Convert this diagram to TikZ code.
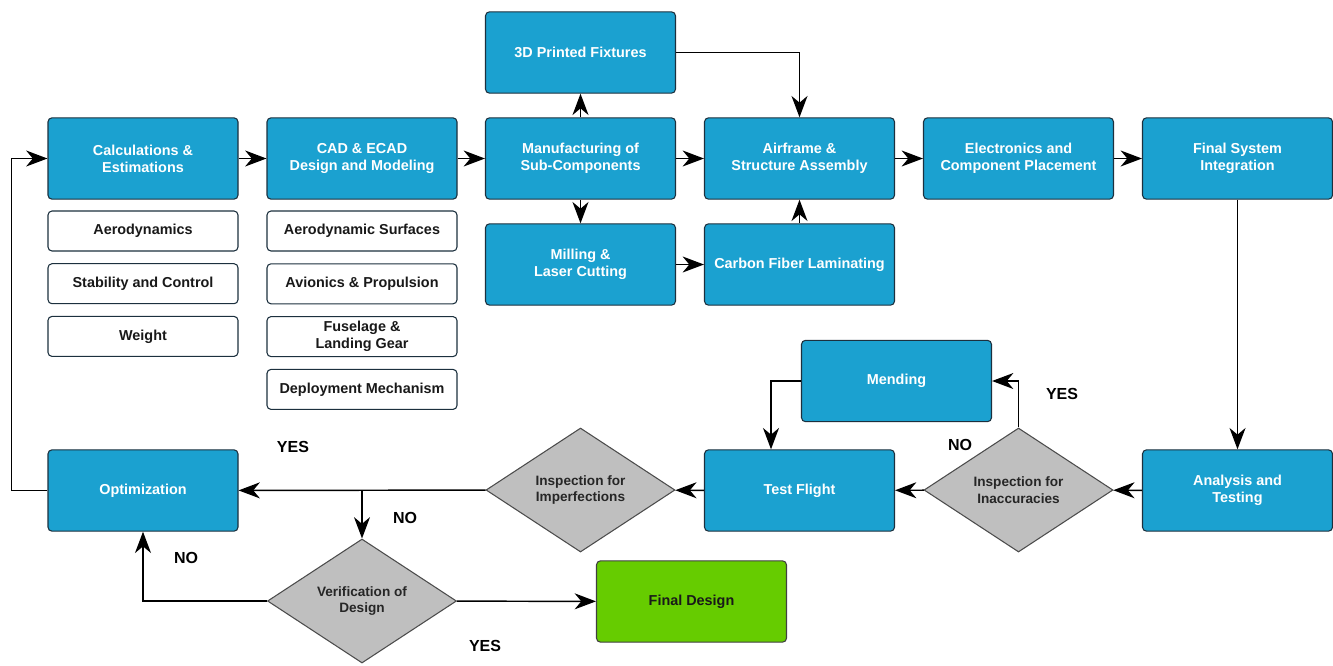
\documentclass[tikz,border=0pt]{standalone}
\usepackage{fontspec}
\setmainfont{Liberation Sans}
\usetikzlibrary{%
  arrows.meta,%
  shapes.geometric,% wg. diamond
  calc%
}
\definecolor{boxblue}{RGB}{27,161,208}
\definecolor{boxline}{RGB}{28,48,62}
\definecolor{decgray}{RGB}{191,191,191}
\definecolor{finalgreen}{RGB}{102,204,0}

\begin{document}
\begin{tikzpicture}[
  x=0.75pt, y=-0.75pt,
  font=\bfseries\fontsize{10.8}{12.8}\selectfont,
  line width=1.1pt,
  arr/.style={-{Stealth[length=16pt,width=12pt,inset=5pt]}},
  blk/.style={draw=boxline, line width=0.8pt, fill=boxblue, rounded corners=3pt,
    text=white, align=center, minimum width=142.5pt, minimum height=61pt, inner sep=0pt},
  sub/.style={draw=boxline, line width=0.8pt, fill=white, rounded corners=3pt,
    text=black!90, align=center, minimum width=142.5pt, minimum height=30pt, inner sep=0pt},
  dec/.style={diamond, draw=black!70, line width=0.8pt, fill=decgray, align=center,
    minimum width=141.75pt, minimum height=93pt, inner sep=0pt, text=black!85,
    font=\bfseries\fontsize{10.2}{12.4}\selectfont},
  lbl/.style={font=\bfseries\fontsize{12}{14}\selectfont},
]
\useasboundingbox (0,0) rectangle (1333,665);

% top row
\node[blk] (calc) at (143,158.5) {Calculations \&\\ Estimations};
\node[blk] (cad) at (362,158.5) {CAD \& ECAD\\ Design and Modeling};
\node[blk] (manu) at (580.5,158.5) {Manufacturing of\\ Sub-Components};
\node[blk] (air) at (799.5,158.5) {Airframe \&\\ Structure Assembly};
\node[blk] (elec) at (1018.5,158.5) {Electronics and\\ Component Placement};
\node[blk] (fsi) at (1237.5,158.5) {Final System\\ Integration};
\node[blk] (print) at (580.5,52.5) {3D Printed Fixtures};
\node[blk] (mill) at (580.5,264.5) {Milling \&\\ Laser Cutting};
\node[blk] (carbon) at (799.5,264.5) {Carbon Fiber Laminating};

\foreach \t [count=\i] in {Aerodynamics, Stability and Control, Weight} {
  \node[sub] (calcsub\i) at (143,231+52.7*\i-52.7) {\t};
}
\foreach \t [count=\i] in {Aerodynamic Surfaces, Avionics \& Propulsion,
    {Fuselage \&\\ Landing Gear}, Deployment Mechanism} {
  \node[sub] (cadsub\i) at (362,231+52.8*\i-52.8) {\t};
}

% bottom loop
\node[blk] (mend) at (896.5,381) {Mending};
\node[blk] (test) at (799.5,490.5) {Test Flight};
\node[blk] (ana) at (1237.5,490.5) {Analysis and\\ Testing};
\node[blk] (opt) at (143,490.5) {Optimization};
\node[dec] (insacc) at (1018.5,490) {Inspection for\\ Inaccuracies};
\node[dec] (insimp) at (580.5,490) {Inspection for\\ Imperfections};
\node[dec] (ver) at (362,601) {Verification of\\ Design};
\node[blk, fill=finalgreen, draw=black!75, text=black!90] (fin) at (691.5,601.5) {Final Design};

\draw[arr] (calc) -- (cad);
\draw[arr] (cad) -- (manu);
\draw[arr] (manu) -- (air);
\draw[arr] (air) -- (elec);
\draw[arr] (elec) -- (fsi);
\draw[arr] (manu) -- (print);
\draw[arr] (manu) -- (mill);
\draw[arr] (print.east) -| (air.north);
\draw[arr] (mill) -- (carbon);
\draw[arr] (carbon) -- (air);
\draw[arr] (fsi) -- (ana);
\draw[arr] (ana) -- (insacc);
\draw[arr] (insacc) -- (test);
\draw[arr] (insacc.north) |- (mend.east);
\draw[arr] (mend.west) -| ($(test.north)+(-28.5,0)$);
\draw[arr] (test) -- (insimp);
\draw[arr] (insimp) -- (opt);
\draw[arr] (insimp.west -| ver.north) -- (ver.north);
\draw[arr] (ver.west) -| (opt.south);
\draw[arr] (ver) -- (fin);
\draw[arr] (opt.west) -- ++(-36,0) |- (calc.west);

\node[lbl] (yes1) at (1062,394) {YES};
\node[lbl] (no1) at (960,445) {NO};
\node[lbl] (yes2) at (293,447) {YES};
\node[lbl] (no2) at (405,518) {NO};
\node[lbl] (no3) at (186,558) {NO};
\node[lbl] (yes3) at (485,646) {YES};
\end{tikzpicture}
\end{document}
